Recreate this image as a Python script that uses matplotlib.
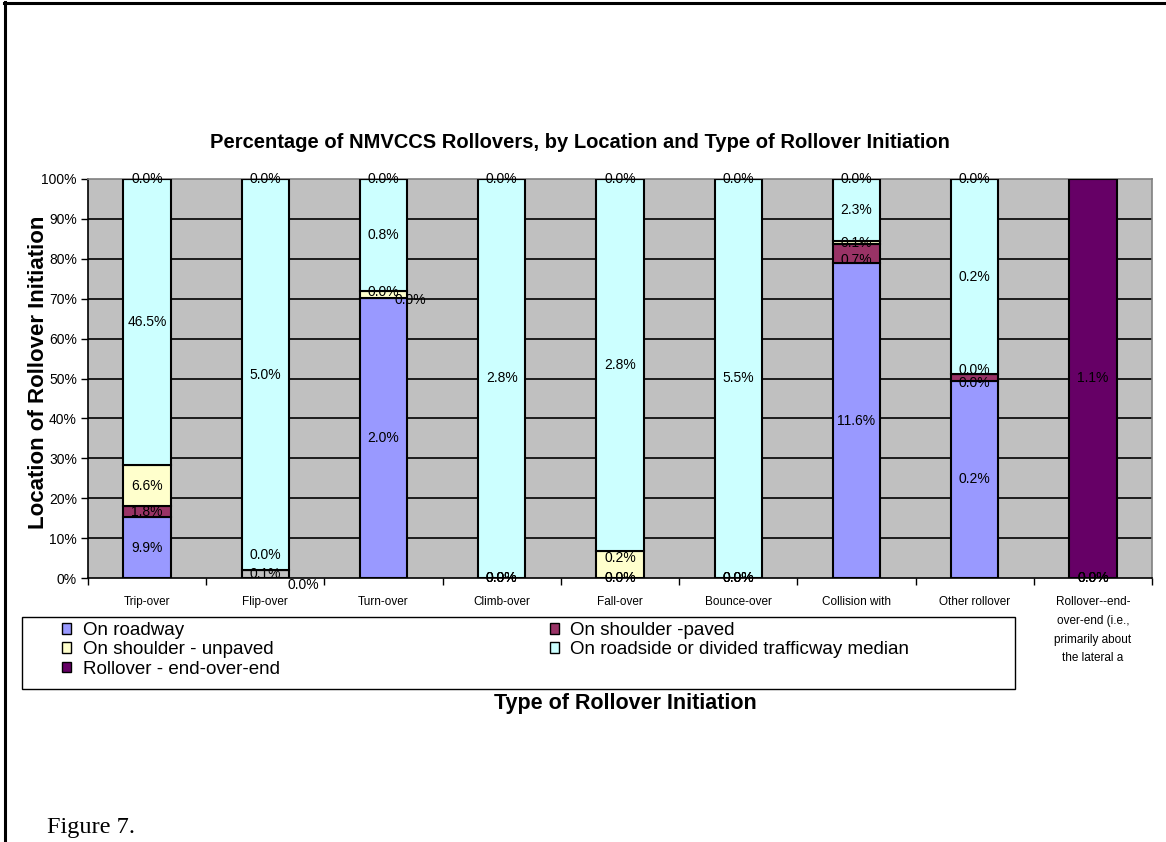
import numpy as np
import matplotlib
matplotlib.use('Agg')
import matplotlib.pyplot as plt
from matplotlib.lines import Line2D
from matplotlib.patches import Rectangle
from matplotlib.ticker import PercentFormatter

plt.rcParams['font.family'] = ['Liberation Sans', 'DejaVu Sans']

# data: share of all rollovers (%) shown in the labels, per location series
categories = ['Trip-over', 'Flip-over', 'Turn-over', 'Climb-over', 'Fall-over',
              'Bounce-over', 'Collision with', 'Other rollover',
              'Rollover--end-\nover-end (i.e.,\nprimarily about\nthe lateral a']
roadway = [9.9, 0.0, 2.0, 0.0, 0.0, 0.0, 11.6, 0.200, 0.0]
shoulder_paved = [1.8, 0.1, 0.0, 0.0, 0.0, 0.0, 0.7, 0.007, 0.0]
shoulder_unpaved = [6.6, 0.0, 0.045, 0.0, 0.2, 0.0, 0.1, 0.0, 0.0]
roadside = [46.5, 5.0, 0.8, 2.8, 2.8, 5.5, 2.3, 0.198, np.nan]
end_over_end = [0.0, 0.0, 0.0, 0.0, 0.0, 0.0, 0.0, 0.0, 1.1]

series_names = ['On roadway', 'On shoulder -paved', 'On shoulder - unpaved',
                'On roadside or divided trafficway median', 'Rollover - end-over-end']
colors = ['#9999FF', '#993366', '#FFFFCC', '#CCFFFF', '#660066']

values = np.array([roadway, shoulder_paved, shoulder_unpaved, roadside, end_over_end])
totals = np.nansum(values, axis=0)
shares = np.nan_to_num(values) / totals

# label nudges in pixels (series, category): (dx, dy)
nudges = {(0, 1): (38, -7), (2, 1): (0, 15), (1, 2): (27, -2), (2, 2): (0, 2),
          (2, 4): (0, 7), (1, 7): (0, -5), (2, 7): (0, 4), (1, 6): (0, -6)}

W, H = 1166, 842
fig = plt.figure(figsize=(W / 100, H / 100), dpi=100)
ax = fig.add_axes([88 / W, 1 - 578 / H, (1152 - 88) / W, (578 - 179) / H])
ax.set_facecolor('#C0C0C0')

x = np.arange(len(categories))
bottom = np.zeros(len(categories))
containers = []
for i in range(len(series_names)):
    bars = ax.bar(x, shares[i], 0.4, bottom=bottom, color=colors[i],
                  edgecolor='black', linewidth=1.5, zorder=3, label=series_names[i])
    containers.append(bars)
    for j in range(len(categories)):
        if np.isnan(values[i, j]):
            continue
        dx, dy = nudges.get((i, j), (0, 0))
        ax.annotate(f'{values[i, j]:.1f}%', (x[j], bottom[j] + shares[i, j] / 2),
                    xytext=(dx, dy), textcoords='offset pixels',
                    ha='center', va='center', fontsize=10, zorder=5)
    bottom = bottom + shares[i]

# the small flip-over shoulder segment is drawn grey in the original
containers[1][1].set_facecolor('#C0C0C0')

ax.set_xlim(-0.5, len(categories) - 0.5)
ax.set_ylim(0, 1)
ax.set_yticks(np.linspace(0, 1, 11))
ax.yaxis.set_major_formatter(PercentFormatter(1.0, decimals=0))
for yv in np.linspace(0.1, 0.9, 9):
    ax.axhline(yv, color='black', linewidth=1.2, zorder=1)

ax.set_xticks(np.arange(len(categories) + 1) - 0.5)
ax.set_xticklabels([])
ax.set_xticks(x, categories, minor=True)
ax.tick_params(axis='x', which='major', length=5, direction='out', width=1)
ax.tick_params(axis='x', which='minor', length=0, pad=13, labelsize=8.5)
ax.tick_params(axis='y', length=5, direction='out', width=1, labelsize=10, pad=3)
for lab in ax.get_xticklabels(minor=True):
    lab.set_linespacing(1.75)

for s in ['left', 'bottom']:
    ax.spines[s].set_color('black')
    ax.spines[s].set_linewidth(1.2)
for s in ['top', 'right']:
    ax.spines[s].set_color('#808080')
    ax.spines[s].set_linewidth(1.2)

fig.text(580 / W, 1 - 142 / H,
         'Percentage of NMVCCS Rollovers, by Location and Type of Rollover Initiation',
         ha='center', va='center', fontsize=14.5, fontweight='bold')
fig.text(39 / W, 1 - 372 / H, 'Location of Rollover Initiation', rotation=90,
         ha='center', va='center', fontsize=16, fontweight='bold')
fig.text(625 / W, 1 - 703 / H, 'Type of Rollover Initiation',
         ha='center', va='center', fontsize=15.5, fontweight='bold')

# legend, filled row by row like the original
order = [0, 2, 4, 1, 3]
leg = fig.legend([containers[k] for k in order], [series_names[k] for k in order],
                 ncol=2, loc='upper left', bbox_to_anchor=(62 / W, 1 - 622 / H),
                 bbox_transform=fig.transFigure, frameon=False, fontsize=13.5,
                 handlelength=0.5, handleheight=0.5, handletextpad=0.6,
                 labelspacing=0.12, columnspacing=14.4, borderpad=0, borderaxespad=0)
for h in leg.legend_handles:
    h.set_linewidth(1)
fig.add_artist(Rectangle((22 / W, 1 - 689 / H), (1015 - 22) / W, (689 - 617) / H,
                         transform=fig.transFigure, fill=False, edgecolor='black', lw=1))

fig.text(47 / W, 1 - 833 / H, 'Figure 7.', family='Liberation Serif', fontsize=17.5,
         ha='left', va='baseline')

# page border on top and left
fig.add_artist(Line2D([4 / W, 1], [1 - 3 / H, 1 - 3 / H], transform=fig.transFigure,
                      color='black', lw=2.2))
fig.add_artist(Line2D([5 / W, 5 / W], [0, 1 - 2 / H], transform=fig.transFigure,
                      color='black', lw=2.2))

fig.savefig('out.png', dpi=100)
